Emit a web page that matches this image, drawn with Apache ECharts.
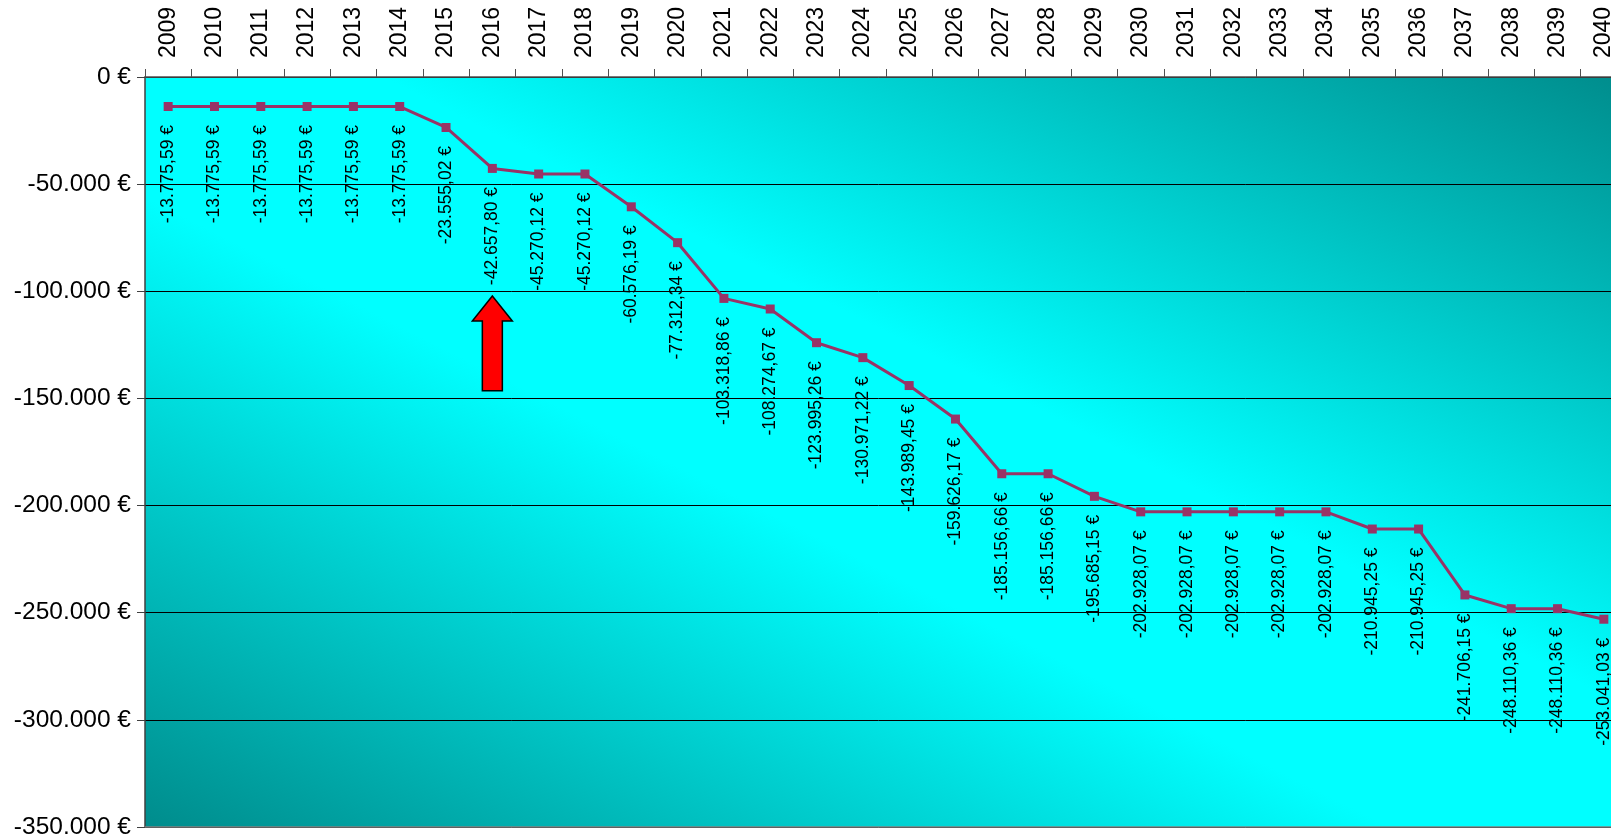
<!DOCTYPE html>
<html>
<head>
<meta charset="utf-8">
<script src="https://cdn.jsdelivr.net/npm/echarts@6/dist/echarts.min.js"></script>
<style>
html,body{margin:0;padding:0;background:#fff;}
#chart{width:1611px;height:837px;}
</style>
</head>
<body>
<div id="chart"></div>
<script>
const years = ['2009','2010','2011','2012','2013','2014','2015','2016','2017','2018','2019','2020','2021','2022','2023','2024','2025','2026','2027','2028','2029','2030','2031','2032','2033','2034','2035','2036','2037','2038','2039','2040'];
const balance = [-13775.59,-13775.59,-13775.59,-13775.59,-13775.59,-13775.59,-23555.02,-42657.80,-45270.12,-45270.12,-60576.19,-77312.34,-103318.86,-108274.67,-123995.26,-130971.22,-143989.45,-159626.17,-185156.66,-185156.66,-195685.15,-202928.07,-202928.07,-202928.07,-202928.07,-202928.07,-210945.25,-210945.25,-241706.15,-248110.36,-248110.36,-253041.03];
const yTicks = [0,-50000,-100000,-150000,-200000,-250000,-300000,-350000];
const arrowYear = '2016';
const arrowTip = -102200;
const arrowBase = -146400;

function fmtDE(v, dec){
  const neg = v < 0;
  const a = Math.abs(v);
  let s = a.toFixed(dec);
  let [ip, fp] = s.split('.');
  ip = ip.replace(/\B(?=(\d{3})+(?!\d))/g, '.');
  return (neg ? '-' : '') + ip + (fp ? ',' + fp : '') + ' €';
}

const W = 1482, H = 750;
const L2 = W*W + H*H;
const dx = H*H/L2, dy = W*W/L2;
const bg = {
  type: 'linear',
  x: 0.5 + dx, y: 0.5 - dy, x2: 0.5 - dx, y2: 0.5 + dy,
  colorStops: [
    {offset: 0, color: '#008c8c'},
    {offset: 0.42, color: '#00ffff'},
    {offset: 0.58, color: '#00ffff'},
    {offset: 1, color: '#008c8c'}
  ]
};

const chart = echarts.init(document.getElementById('chart'), null, {renderer: 'canvas'});
const font = '"Liberation Sans", Arial, sans-serif';
chart.setOption({
  animation: false,
  textStyle: {fontFamily: font},
  grid: {
    left: 145, top: 77, width: W, height: H,
    outerBoundsMode: 'none',
    containLabel: false,
    show: true, backgroundColor: bg, borderWidth: 0
  },
  xAxis: {
    type: 'category',
    position: 'top',
    data: years,
    axisLine: {show: true, lineStyle: {color: '#505050', width: 1.5}},
    axisTick: {show: true, inside: false, length: 8, lineStyle: {color: '#505050', width: 1}},
    axisLabel: {rotate: 90, margin: 19, color: '#000', fontSize: 23, fontFamily: font, interval: 0},
    splitLine: {show: false}
  },
  yAxis: {
    type: 'value',
    min: -350000, max: 0, interval: 50000,
    axisLine: {show: true, lineStyle: {color: '#404040', width: 1.5}},
    axisTick: {show: true, length: 8, lineStyle: {color: '#404040'}},
    axisLabel: {color: '#000', fontSize: 24.5, fontFamily: font, margin: 14,
      formatter: v => fmtDE(v, 0)},
    splitLine: {show: true, lineStyle: {color: '#000', width: 1}}
  },
  series: [{
    type: 'line',
    data: balance,
    symbol: 'rect',
    symbolSize: 9,
    lineStyle: {color: '#993366', width: 3},
    itemStyle: {color: '#993366'},
    label: {
      show: true,
      position: 'bottom',
      distance: 14,
      rotate: 90,
      align: 'right',
      verticalAlign: 'middle',
      color: '#000',
      fontSize: 17.5,
      fontFamily: font,
      formatter: p => fmtDE(p.value, 2)
    },
    labelLayout: {hideOverlap: false}
  }]
});

const idx = years.indexOf(arrowYear);
const tip = chart.convertToPixel({gridIndex: 0}, [idx, arrowTip]);
const base = chart.convertToPixel({gridIndex: 0}, [idx, arrowBase]);
const bottomL = chart.convertToPixel({gridIndex: 0}, [0, -350000]);
const cx = tip[0], ty = tip[1], by = base[1];
const headH = 25, headW = 20, shaftW = 10;
chart.setOption({
  graphic: [
    {
      type: 'line',
      shape: {x1: 145, y1: bottomL[1], x2: 1611, y2: bottomL[1]},
      style: {stroke: '#808080', lineWidth: 1.5},
      z: 5
    },
    {
      type: 'polygon',
      shape: {points: [
        [cx, ty], [cx + headW, ty + headH], [cx + shaftW, ty + headH],
        [cx + shaftW, by], [cx - shaftW, by], [cx - shaftW, ty + headH],
        [cx - headW, ty + headH]
      ]},
      style: {fill: '#ff0000', stroke: '#000', lineWidth: 1.5},
      z: 10
    }
  ]
});
</script>
</body>
</html>
